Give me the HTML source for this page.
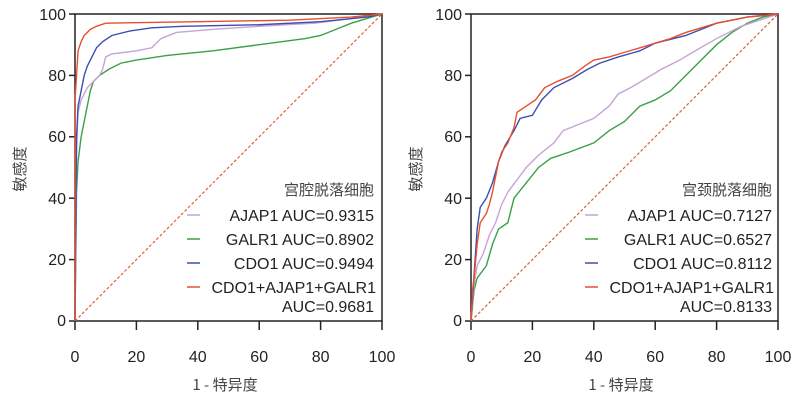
<!DOCTYPE html>
<html><head><meta charset="utf-8"><style>
body{margin:0;background:#fff;}
svg{display:block;font-family:"Liberation Sans","Noto Sans CJK SC",sans-serif;}
.t{font-size:16px;fill:#222;}
.c{font-family:"Noto Sans CJK SC",sans-serif;font-size:15px;fill:#444;}
polyline{fill:none;stroke-width:1.4;}
</style></head><body>
<svg width="808" height="403" viewBox="0 0 808 403">
<defs>
<g id="frame">
<rect x="0" y="0" width="307" height="307" fill="none" stroke="#222" stroke-width="1.5"/>
<g stroke="#222" stroke-width="1.5">
<line x1="0" y1="307" x2="0" y2="316"/><line x1="61.4" y1="307" x2="61.4" y2="316"/><line x1="122.8" y1="307" x2="122.8" y2="316"/><line x1="184.2" y1="307" x2="184.2" y2="316"/><line x1="245.6" y1="307" x2="245.6" y2="316"/><line x1="307" y1="307" x2="307" y2="316"/>
<line x1="0" y1="0" x2="-6" y2="0"/><line x1="0" y1="61.4" x2="-6" y2="61.4"/><line x1="0" y1="122.8" x2="-6" y2="122.8"/><line x1="0" y1="184.2" x2="-6" y2="184.2"/><line x1="0" y1="245.6" x2="-6" y2="245.6"/><line x1="0" y1="307" x2="-6" y2="307"/>
</g>
<g class="t" text-anchor="end">
<text x="-9" y="6">100</text><text x="-9" y="67">80</text><text x="-9" y="128">60</text><text x="-9" y="190">40</text><text x="-9" y="251">20</text><text x="-9" y="312">0</text>
</g>
<g class="t" text-anchor="middle">
<text x="0" y="348">0</text><text x="61.4" y="348">20</text><text x="122.8" y="348">40</text><text x="184.2" y="348">60</text><text x="245.6" y="348">80</text><text x="307" y="348">100</text>
</g>
<text class="c" x="150" y="376" text-anchor="middle">1 - 特异度</text>
<text class="c" transform="translate(-50,155) rotate(-90)" text-anchor="middle">敏感度</text>
<line x1="0" y1="307" x2="307" y2="0" stroke="#e0603a" stroke-width="1.2" stroke-dasharray="3,2"/>
</g>
</defs>

<g transform="translate(75,14)">
<use href="#frame"/>
<g transform="translate(0,307) scale(3.07,-3.07)">
<polyline stroke="#3aa048" vector-effect="non-scaling-stroke" points="0,0 0.5,42 1,52 2,60 3,65 4,70 5,75 6,78 8,80 11,82 15,84 20,85 30,86.5 45,88 60,90 75,92 80,93 85,95 90,97 95,98.5 100,100"/>
<polyline stroke="#c7a3d6" vector-effect="non-scaling-stroke" points="0,0 0.5,55 1,68 2,72 4,76 6,78 8,80 9,82 10,86 12,87 20,88 25,89 28,92 33,94 45,95 60,96 78,97 90,98.5 100,100"/>
<polyline stroke="#3b4fb0" vector-effect="non-scaling-stroke" points="0,0 0.5,60 1,70 2,75 3,80 4,83 5,85 7,89 9,91 12,93 18,94.5 25,95.5 35,96 60,96.5 80,97.5 95,99 100,100"/>
<polyline stroke="#e5502e" vector-effect="non-scaling-stroke" points="0,0 0,72 0.5,80 1,88 2,91 3,93 5,95 7,96 10,97 40,97.5 70,98 90,99 100,100"/>
</g>
<g class="t" text-anchor="end">
<text class="c" x="299" y="181">宫腔脱落细胞</text>
<text x="299" y="207">AJAP1 AUC=0.9315</text>
<text x="299" y="231">GALR1 AUC=0.8902</text>
<text x="299" y="255">CDO1 AUC=0.9494</text>
<text x="301" y="279">CDO1+AJAP1+GALR1</text>
<text x="299" y="298">AUC=0.9681</text>
</g>
<line x1="112" y1="201" x2="125" y2="201" stroke="#c7a3d6" stroke-width="1.5"/>
<line x1="112" y1="225" x2="125" y2="225" stroke="#3aa048" stroke-width="1.5"/>
<line x1="112" y1="249" x2="125" y2="249" stroke="#3b4fb0" stroke-width="1.5"/>
<line x1="112" y1="273" x2="125" y2="273" stroke="#e5502e" stroke-width="1.5"/>
</g>

<g transform="translate(471,14)">
<use href="#frame"/>
<g transform="translate(0,307) scale(3.07,-3.07)">
<polyline stroke="#3aa048" vector-effect="non-scaling-stroke" points="0,0 1,10 2,14 5,18 7,25 9,30 12,32 14,40 18,45 22,50 26,53 32,55 40,58 45,62 50,65 55,70 60,72 65,75 70,80 75,85 80,90 85,94 90,97 95,99 100,100"/>
<polyline stroke="#c7a3d6" vector-effect="non-scaling-stroke" points="0,0 1,12 2,18 4,22 6,28 8,32 10,38 12,42 15,46 18,50 22,54 27,58 30,62 35,64 40,66 45,70 48,74 52,76 57,79 62,82 68,85 73,88 80,92 88,96 100,100"/>
<polyline stroke="#3b4fb0" vector-effect="non-scaling-stroke" points="0,0 1,15 2,30 3,37 5,40 7,45 9,52 11,57 14,62 16,66 20,67 23,72 27,76 33,79 38,82 42,84 48,86 55,88 60,90.5 70,93 80,97 90,99 100,100"/>
<polyline stroke="#e5502e" vector-effect="non-scaling-stroke" points="0,0 0.5,10 1,14 2,25 3,32 5,35 6,38 7,42 8,47 9,52 10,55 12,58 14,63 15,68 18,70 21,72 24,76 28,78 33,80 37,83 40,85 45,86 50,87.5 55,89 60,90.5 65,92 70,94 80,97 90,99 100,100"/>
</g>
<g class="t" text-anchor="end">
<text class="c" x="301" y="181">宫颈脱落细胞</text>
<text x="301" y="207">AJAP1 AUC=0.7127</text>
<text x="301" y="231">GALR1 AUC=0.6527</text>
<text x="301" y="255">CDO1 AUC=0.8112</text>
<text x="303" y="279">CDO1+AJAP1+GALR1</text>
<text x="301" y="298">AUC=0.8133</text>
</g>
<line x1="114" y1="201" x2="127" y2="201" stroke="#c7a3d6" stroke-width="1.5"/>
<line x1="114" y1="225" x2="127" y2="225" stroke="#3aa048" stroke-width="1.5"/>
<line x1="114" y1="249" x2="127" y2="249" stroke="#3b4fb0" stroke-width="1.5"/>
<line x1="114" y1="273" x2="127" y2="273" stroke="#e5502e" stroke-width="1.5"/>
</g>
</svg>
</body></html>
